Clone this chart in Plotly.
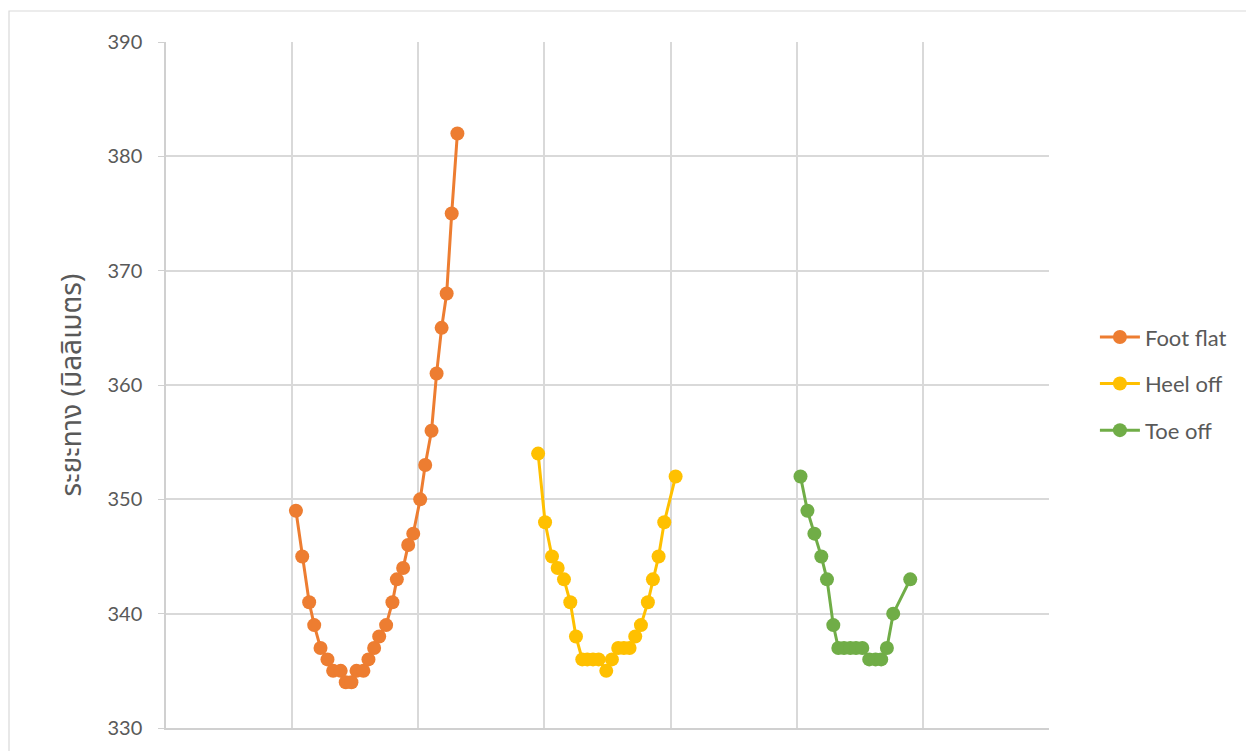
import plotly.graph_objects as go

# Frame positions (x) and measured distance in millimetres (y) for each gait phase
foot_flat_x = [20.6, 21.6, 22.7, 23.5, 24.5, 25.6, 26.5, 27.7, 28.5, 29.4, 30.2, 31.3, 32.1,
               33.0, 33.8, 34.9, 35.9, 36.6, 37.6, 38.4, 39.2, 40.3, 41.1, 42.1, 42.9, 43.7,
               44.5, 45.3, 46.2]
foot_flat_y = [349, 345, 341, 339, 337, 336, 335, 335, 334, 334, 335, 335, 336,
               337, 338, 339, 341, 343, 344, 346, 347, 350, 353, 356, 361, 365,
               368, 375, 382]

heel_off_x = [59.0, 60.1, 61.2, 62.1, 63.1, 64.1, 65.0, 66.0, 66.8, 67.7, 68.6, 69.8,
              70.7, 71.7, 72.6, 73.5, 74.4, 75.3, 76.4, 77.2, 78.1, 79.0, 80.8]
heel_off_y = [354, 348, 345, 344, 343, 341, 338, 336, 336, 336, 336, 335,
              336, 337, 337, 337, 338, 339, 341, 343, 345, 348, 352]

toe_off_x = [100.6, 101.7, 102.8, 103.9, 104.8, 105.8, 106.6, 107.5, 108.5, 109.4,
             110.4, 111.5, 112.5, 113.4, 114.3, 115.3, 118.0]
toe_off_y = [352, 349, 347, 345, 343, 339, 337, 337, 337, 337,
             337, 336, 336, 336, 337, 340, 343]

series_names = ["Foot flat", "Heel off", "Toe off"]
series_colors = ["#ED7D31", "#FFC000", "#70AD47"]
series_x = [foot_flat_x, heel_off_x, toe_off_x]
series_y = [foot_flat_y, heel_off_y, toe_off_y]

y_title = "ระยะทาง (มิลลิเมตร)"

font_family = "Lato, 'Open Sans', 'Noto Sans', sans-serif"
grid_color = "#D9D9D9"
text_color = "#595959"

fig = go.Figure()
for name, color, xs, ys in zip(series_names, series_colors, series_x, series_y):
    fig.add_trace(go.Scatter(
        x=xs, y=ys, name=name, mode="lines+markers",
        legendgroup=name,
        line=dict(color=color, width=3),
        marker=dict(color=color, size=14),
    ))

fig.update_layout(
    width=1246, height=751,
    margin=dict(l=166, r=197, t=42, b=23),
    paper_bgcolor="white", plot_bgcolor="white",
    font=dict(family=font_family, color=text_color, size=20),
    showlegend=True,
    legend=dict(
        x=1.052, y=0.502, xanchor="left", yanchor="middle",
        font=dict(size=22, color=text_color),
        traceorder="grouped", tracegroupgap=15,
        itemwidth=40,
        bgcolor="rgba(0,0,0,0)",
    ),
    shapes=[dict(
        type="rect", xref="paper", yref="paper",
        x0=-0.1778, x1=1.23, y0=-0.05, y1=1.0452,
        line=dict(color=grid_color, width=1.2),
        fillcolor="rgba(0,0,0,0)", layer="below",
    )],
)

fig.update_xaxes(
    range=[0, 140], dtick=20, tick0=0,
    showgrid=True, gridcolor=grid_color, gridwidth=1.5,
    showticklabels=False, zeroline=False,
    showline=True, linecolor="#D0D0D0", linewidth=1.5,
    ticks="",
)
fig.update_yaxes(
    range=[330, 390], dtick=10, tick0=330,
    showgrid=True, gridcolor=grid_color, gridwidth=1.5,
    zeroline=False,
    showline=True, linecolor="#D0D0D0", linewidth=1.5,
    ticks="outside", ticklen=6, tickcolor="#D0D0D0",
    ticklabelstandoff=12,
    tickfont=dict(size=20, color=text_color),
    title=dict(text=y_title, font=dict(size=28, color=text_color,
               family="'Noto Sans Thai', 'Noto Sans', 'DejaVu Sans', sans-serif"),
               standoff=18),
)

fig.write_html("out.html")
